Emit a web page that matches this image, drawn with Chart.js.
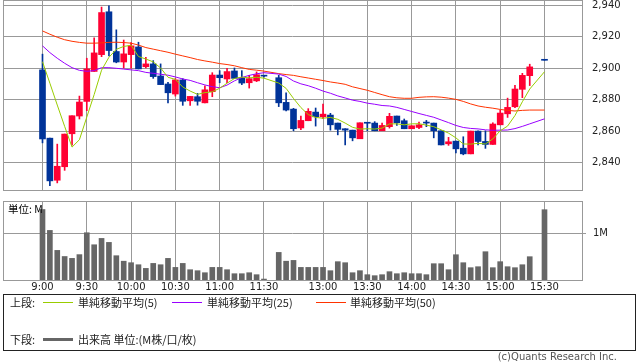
<!DOCTYPE html>
<html><head><meta charset="utf-8">
<script src="https://cdn.jsdelivr.net/npm/chart.js@4/dist/chart.umd.min.js"></script>
<style>
html,body{margin:0;padding:0;background:#fff;width:638px;height:362px;overflow:hidden;font-family:"DejaVu Sans",sans-serif;}
#cA{position:absolute;left:0;top:0;}
#cB{position:absolute;left:0;top:195px;}
.t{position:absolute;white-space:nowrap;font-family:"Noto Sans CJK JP",sans-serif;font-size:11px;color:#222;line-height:13px;}
.ln{position:absolute;height:1px;}
#box{position:absolute;left:3px;top:294px;width:633px;height:57px;border:1px solid #222;box-sizing:border-box;}
</style></head>
<body>
<canvas id="cA" width="638" height="200"></canvas>
<canvas id="cB" width="638" height="100"></canvas>
<div class="t" style="left:8px;top:202px;font-size:10.5px;color:#000;">単位: M</div>
<div id="box"></div>
<div class="t" style="left:10px;top:296px;">上段:</div>
<div class="ln" style="left:43px;top:302px;width:30px;background:#99cc00;"></div>
<div class="t" style="left:78px;top:296px;">単純移動平均(5)</div>
<div class="ln" style="left:172px;top:302px;width:30px;background:#9900ff;"></div>
<div class="t" style="left:207px;top:296px;">単純移動平均(25)</div>
<div class="ln" style="left:316px;top:302px;width:30px;background:#ff3300;"></div>
<div class="t" style="left:350px;top:296px;">単純移動平均(50)</div>
<div class="t" style="left:10px;top:333px;">下段:</div>
<div class="ln" style="left:43px;top:338px;width:30px;height:3px;background:#666;"></div>
<div class="t" style="left:78px;top:333px;">出来高 単位:(M株/口/枚)</div>
<div class="t" style="right:21px;top:350px;font-family:'DejaVu Sans',sans-serif;font-size:10px;color:#555;">(c)Quants Research Inc.</div>
<script>
const times = ['9:00','9:05','9:10','9:15','9:20','9:25','9:30','9:35','9:40','9:45','9:50','9:55',
 '10:00','10:05','10:10','10:15','10:20','10:25','10:30','10:35','10:40','10:45','10:50','10:55',
 '11:00','11:05','11:10','11:15','11:20','11:25','11:30','',
 '12:30','12:35','12:40','12:45','12:50','12:55',
 '13:00','13:05','13:10','13:15','13:20','13:25','13:30','13:35','13:40','13:45','13:50','13:55',
 '14:00','14:05','14:10','14:15','14:20','14:25','14:30','14:35','14:40','14:45','14:50','14:55',
 '15:00','15:05','15:10','15:15','15:20','15:25','15:30'];
const tickLabels = ['9:00','9:30','10:00','10:30','11:00','11:30','13:00','13:30','14:00','14:30','15:00','15:30'];
const priceTicks = [2840,2860,2880,2900,2920,2940];
const volTicks = [1];

const open = [2899,2855.5,2828.7,2837.3,2858.3,2869.6,2878.9,2898,2908.7,2936,2910.7,2904,2908.7,2913.6,2901,2902.8,2895.1,2890,2883.6,2892.6,2879.3,2881.9,2878,2885.1,2895.7,2893.2,2898.3,2894,2890.8,2892,2895,null,
 2894,2878.3,2874,2862,2866.6,2872.1,2869.1,2870.2,2865.1,2861.5,2860.6,2855.1,2865,2865.1,2860.2,2862.8,2869.6,2866.6,2861.5,2862.3,2865.1,2865.1,2860.2,2851.9,2853.6,2849.1,2845.5,2860,2853.4,2851.5,2864,2871,2875.5,2886.6,2895.3,null,2905.1];
const high = [2909,2855.5,2851.7,2858.1,2869.8,2882.3,2906.4,2919.4,2939,2939.8,2924.5,2918,2916.4,2916.6,2907,2904.9,2902.8,2891,2893.4,2893.4,2882.1,2884,2888.9,2897.2,2898.5,2900,2900.2,2898.5,2895.5,2897.7,2895.5,null,
 2895.5,2884.3,2874.5,2869.6,2874.3,2874.7,2877.2,2871.3,2865.1,2861.5,2860.6,2865.3,2865,2866,2865.1,2871.3,2869.6,2867.7,2863.4,2865.7,2866.8,2865.1,2860.2,2856,2853.6,2856.4,2860,2860.2,2860.2,2865.3,2873.3,2881,2889.2,2896.8,2902.6,null,2905.1];
const low = [2852.5,2825.3,2827,2835,2851,2867.7,2873,2898,2907.4,2907.9,2903.5,2900.2,2900,2899.6,2900.2,2893.6,2889.6,2878,2882.3,2876.4,2876.4,2876.5,2878,2881.9,2890.8,2890.8,2893.6,2889.6,2887.4,2891.5,2894.4,null,
 2875.6,2872.8,2860.2,2860.9,2866.6,2863.2,2867.9,2860.6,2857.6,2851.2,2853.8,2855.1,2860.2,2860.2,2860.2,2861.9,2863.6,2861.5,2861.5,2861.5,2862.8,2855.7,2851.2,2850.9,2846.1,2844.9,2845.5,2851.2,2849,2851.5,2864,2868.7,2874.9,2881.3,2889,null,2905.1];
const close = [2855,2828.3,2837.6,2858.1,2869.8,2878.5,2899.6,2909.8,2935.5,2911.3,2904,2909.2,2914.3,2899.6,2902.8,2894.7,2889.6,2884.4,2892.6,2879,2882.1,2879,2886.3,2895.7,2894,2897.9,2893.6,2890.6,2893.4,2895.9,2895,null,
 2878,2873.4,2861.5,2866.8,2872.6,2869.1,2870.8,2864,2861.1,2860.6,2855.7,2865.3,2865,2860.2,2863.6,2869.4,2865.3,2861.5,2863.4,2864,2865.1,2860.2,2851.2,2853.2,2848.7,2845.5,2860,2853.4,2851.5,2864.5,2871.5,2875.1,2886.8,2895.5,2900.9,null,2905.1];
const volume = [1.5,1.055,0.63,0.5,0.46,0.54,1.006,0.75,0.885,0.8,0.517,0.4,0.368,0.325,0.247,0.353,0.325,0.46,0.268,0.353,0.219,0.198,0.155,0.268,0.268,0.219,0.134,0.134,0.155,0.113,0.02,null,
 0.587,0.4,0.417,0.268,0.268,0.268,0.268,0.198,0.39,0.368,0.155,0.198,0.113,0.092,0.113,0.177,0.134,0.155,0.134,0.134,0.113,0.347,0.347,0.219,0.538,0.368,0.262,0.283,0.602,0.262,0.39,0.283,0.262,0.325,0.496,null,1.496];
const ma5 = [2904.2,2890.5,2876.6,2863,2849.8,2854.5,2868.9,2883.3,2898.8,2907,2912.1,2913.9,2914.7,2907.5,2905.9,2904.1,2900.2,2894.3,2892.9,2888.1,2885.5,2883.4,2884.5,2885,2887.3,2890.5,2893.5,2894.4,2893.9,2894.3,2893.7,null,
 2890.6,2887.2,2880.8,2875,2870.5,2868.7,2868.2,2868.7,2867.5,2865.1,2862.4,2861.3,2861.5,2861.3,2861.9,2864.6,2864.6,2864,2864.6,2864.7,2863.8,2862.8,2860.8,2858.7,2855.7,2851.8,2851.7,2852.2,2851.8,2855,2860.2,2863.2,2869.9,2878.7,2886.8,null,2897.8];
const ma25 = [2914.3,2910,2906.4,2903.2,2900.4,2898.7,2898.1,2898.5,2900.4,2900.4,2900,2899.5,2899,2898.5,2897.4,2896.8,2896.2,2895.6,2894.5,2893.2,2892.3,2890.8,2889.4,2888.3,2887.6,2889.3,2892,2894.1,2895.5,2896.5,2897.2,null,
 2896.3,2894.8,2891.9,2890.1,2888.9,2887.3,2885.5,2884.1,2882.4,2881.1,2879.7,2878.9,2877.8,2877.1,2876.3,2876,2875.1,2873.8,2872.5,2871.2,2870,2868.8,2867.1,2865.4,2863.6,2862.3,2861.7,2861.4,2860.8,2860.5,2860.6,2860.7,2861.6,2863,2864.6,null,2867.8];
const ma50 = [2923.8,2921.7,2919.8,2918.2,2917.2,2916.5,2916,2916,2916.2,2916.5,2916.6,2916.4,2916,2914.8,2913.2,2912.2,2911.2,2910.2,2909,2907.9,2906.8,2905.6,2904.7,2903.9,2903,2902.4,2901.6,2900.4,2899.3,2898.8,2898.2,null,
 2896.6,2896,2895.5,2894.6,2893.8,2893,2892.2,2891.3,2890.6,2889.8,2888.2,2887.1,2886,2884.6,2883.2,2881.9,2881.2,2880.9,2880.9,2881.5,2881.8,2881.9,2881.6,2881,2880.2,2878.9,2877.3,2876,2875.2,2874.6,2873.8,2873.2,2872.8,2873.2,2873.4,null,2873.4];

const UP = '#ff0033', DOWN = '#003399', GRID = '#999999';
const XMIN = -5.35, XMAX = 73.08;
const idx = times.map((t, i) => i);
const valid = idx.filter(i => open[i] !== null);
const candleColors = valid.map(i => close[i] > open[i] ? UP : DOWN);
const bodies = valid.map(i => ({x: i, y: [open[i], close[i]]}));
const wicks = valid.map(i => ({x: i, y: [low[i], high[i]]}));
const pts = arr => idx.filter(i => arr[i] !== null).map(i => ({x: i, y: arr[i]}));
const tickPos = tickLabels.map(t => times.indexOf(t));

Chart.defaults.font.family = 'DejaVu Sans';
Chart.defaults.font.size = 10;
Chart.defaults.color = '#222';

const noPad = s => { s.paddingTop = 0; s.paddingBottom = 0; s.paddingLeft = 0; s.paddingRight = 0; };

const frame = {
  id: 'frame',
  beforeDatasetsDraw(chart) {
    const {ctx, chartArea: a} = chart;
    ctx.save();
    ctx.strokeStyle = GRID; ctx.lineWidth = 1;
    const l = Math.round(a.left), t = Math.round(a.top), r = Math.round(a.right), b = Math.round(a.bottom);
    ctx.strokeRect(l + 0.5, t + 0.5, r - l, b - t);
    ctx.restore();
  }
};

const xScale = (showLabels, h) => ({
  type: 'linear', min: XMIN, max: XMAX, bounds: 'data', offset: false,
  afterBuildTicks: s => { s.ticks = tickPos.map(v => ({value: v})); },
  ticks: {display: showLabels, autoSkip: false, maxRotation: 0, padding: 1,
          callback: (v, i) => tickLabels[i]},
  grid: {color: GRID, drawTicks: false, offset: false},
  border: {display: false},
  afterFit: s => { s.height = h; noPad(s); }
});

new Chart(document.getElementById('cA'), {
  type: 'bar',
  data: {datasets: [
    {type: 'line', data: pts(ma5), borderColor: '#99cc00', borderWidth: 1, pointRadius: 0, order: 0},
    {type: 'line', data: pts(ma25), borderColor: '#9900ff', borderWidth: 1, pointRadius: 0, order: 0},
    {type: 'line', data: pts(ma50), borderColor: '#ff3300', borderWidth: 1, pointRadius: 0, order: 0},
    {data: bodies, backgroundColor: candleColors, barThickness: 6, minBarLength: 1, grouped: false, order: 1},
    {data: wicks, backgroundColor: candleColors, barThickness: 1, grouped: false, order: 2}
  ]},
  options: {
    responsive: false, animation: false, events: [],
    layout: {autoPadding: false, padding: {left: 3, top: 0, right: 0, bottom: 0}},
    plugins: {legend: {display: false}, tooltip: {enabled: false}},
    scales: {
      x: xScale(false, 10),
      y: {position: 'right', min: 2822.48, max: 2943.5, bounds: 'data',
          afterBuildTicks: s => { s.ticks = priceTicks.map(v => ({value: v})); },
          ticks: {padding: 10, callback: v => v.toLocaleString('en-US')},
          grid: {color: GRID, drawTicks: false}, border: {display: false},
          afterFit: s => { s.width = 56; noPad(s); }}
    }
  },
  plugins: [frame]
});

new Chart(document.getElementById('cB'), {
  type: 'bar',
  data: {datasets: [
    {data: pts(volume), backgroundColor: '#666666', barThickness: 5}
  ]},
  options: {
    responsive: false, animation: false, events: [],
    layout: {autoPadding: false, padding: {left: 3, top: 6, right: 0, bottom: 0}},
    plugins: {legend: {display: false}, tooltip: {enabled: false}},
    scales: {
      x: xScale(true, 15),
      y: {position: 'right', min: 0, max: 79 / 47, bounds: 'data',
          afterBuildTicks: s => { s.ticks = volTicks.map(v => ({value: v})); },
          ticks: {padding: 7, callback: v => v + 'M'},
          grid: {color: GRID, tickLength: 4}, border: {display: false},
          afterFit: s => { s.width = 56; noPad(s); }}
    }
  },
  plugins: [frame]
});
</script>
</body></html>
